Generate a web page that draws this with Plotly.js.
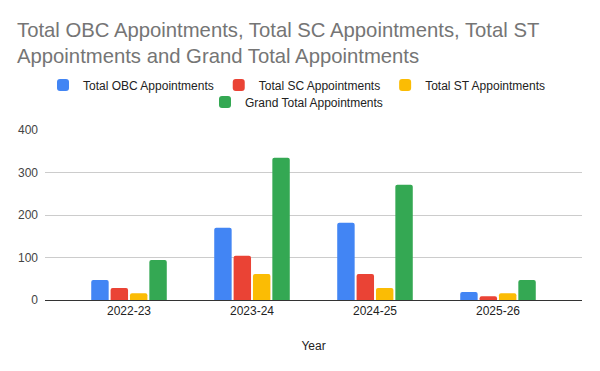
<!DOCTYPE html>
<html><head><meta charset="utf-8">
<script src="https://cdn.plot.ly/plotly-3.0.1.min.js"></script>
<style>body{margin:0}#c{width:600px;height:371px}</style>
</head><body><div id="c"></div>
<script>
const years = ["2022-23", "2023-24", "2024-25", "2025-26"];
const obc = [47, 170, 182, 19];
const sc = [28, 104, 61, 9];
const st = [16, 61, 28, 16];
const grand = [94, 335, 271, 47];
const seriesNames = ["Total OBC Appointments", "Total SC Appointments", "Total ST Appointments", "Grand Total Appointments"];
const colors = ["#4285F4", "#EA4335", "#FBBC04", "#34A853"];
const yTicks = [0, 100, 200, 300, 400];

const vals = [obc, sc, st, grand];
const data = vals.map((v, i) => ({
  type: "bar", x: years, y: v, name: seriesNames[i],
  marker: {color: colors[i], cornerradius: 2},
  legend: i === 3 ? "legend2" : "legend",
  hoverinfo: "none"
}));

const layout = {
  width: 600, height: 371,
  margin: {l: 45, r: 18, t: 130, b: 71},
  paper_bgcolor: "#fff", plot_bgcolor: "#fff",
  font: {family: "Arial, 'Liberation Sans', sans-serif", size: 12, color: "#222"},
  title: {text: "Total OBC Appointments, Total SC Appointments, Total ST<br>Appointments and Grand Total Appointments",
    x: 17/600, xanchor: "left", xref: "container", y: 1 - 37/371, yanchor: "top", yref: "container",
    font: {size: 20.3, color: "#757575"}},
  barmode: "group", bargap: 0.37, bargroupgap: 0.1,
  xaxis: {type: "category", range: [-0.683, 3.683], showgrid: false, showline: true, linecolor: "#333", linewidth: 1,
    ticks: "", tickfont: {size: 12, color: "#222"},
    title: {text: "Year", font: {size: 12, color: "#222"}, standoff: 24}},
  yaxis: {range: [0, 400], tickvals: yTicks, showgrid: true, gridcolor: "#cccccc", zeroline: false,
    tickfont: {size: 12, color: "#444"}, ticks: "", ticklabelstandoff: 6},
  legend: {orientation: "h", x: 0.5 - 17/537, xanchor: "center", y: 1.265, yanchor: "middle", itemwidth: 30, font: {size: 12, color: "#222"}, bgcolor: "rgba(0,0,0,0)"},
  legend2: {orientation: "h", x: 0.5 - 17/537, xanchor: "center", y: 1.165, yanchor: "middle", itemwidth: 30, font: {size: 12, color: "#222"}, bgcolor: "rgba(0,0,0,0)"},
  showlegend: true
};
Plotly.newPlot("c", data, layout, {displayModeBar: false, staticPlot: true});
</script></body></html>
